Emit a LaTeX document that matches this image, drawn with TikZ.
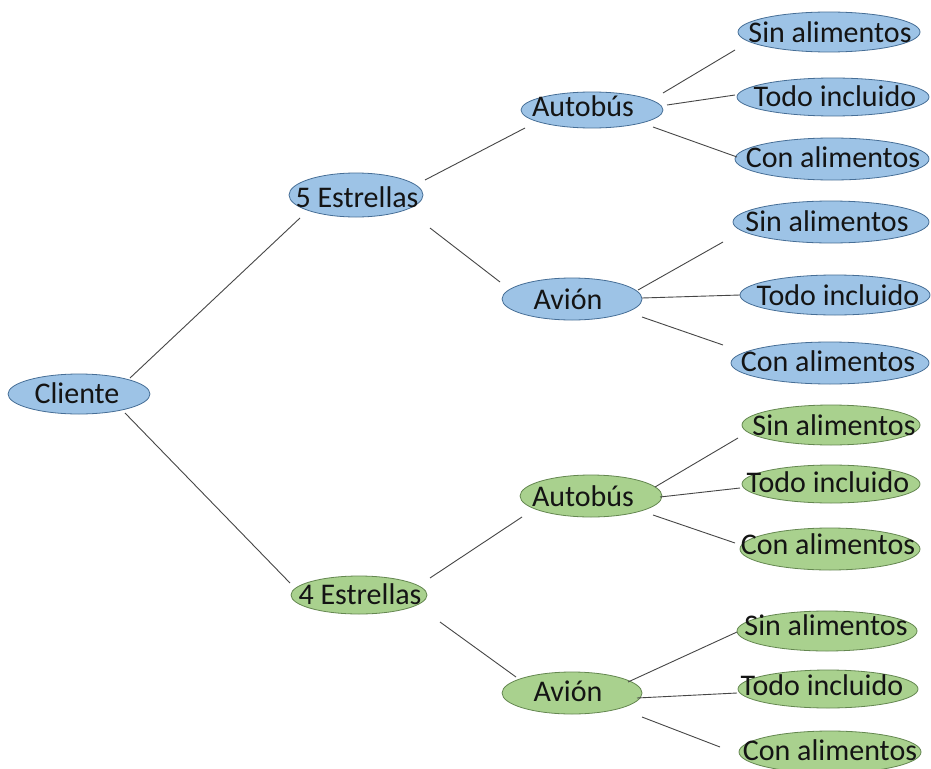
\documentclass[tikz,border=0pt]{standalone}
\usepackage{fontspec}
\setmainfont{Carlito}
\usetikzlibrary{calc,shapes.geometric}
\definecolor{bfill}{RGB}{157,195,230}
\definecolor{bline}{RGB}{70,110,150}
\definecolor{gfill}{RGB}{169,209,142}
\definecolor{gline}{RGB}{100,135,80}
\definecolor{conn}{RGB}{70,70,70}
\newcommand\bub[7]{%
  \node[#2, ellipse, inner sep=0pt, minimum width=#4pt, minimum height=#5pt] (#1) at (#3) {};
  \node[lbl] (#1-t) at (#6) {#7};}
\begin{document}
\begin{tikzpicture}[x=1pt,y=-1pt,
  lbl/.style={font=\fontsize{30}{30}\selectfont, inner sep=0pt, text height=19.3pt, text depth=0pt, text=black!92},
  bl/.style={fill=bfill, draw=bline, line width=0.8pt},
  gr/.style={fill=gfill, draw=gline, line width=0.8pt},
  conline/.style={draw=conn, line width=0.9pt}]
\useasboundingbox[fill=white] (0,0) rectangle (931,768);
\bub{cl}{bl}{79,394}{142}{40}{77,394}{Cliente}
\bub{s5}{bl}{356,195}{134}{44}{357,198}{5 Estrellas}
\bub{a1}{bl}{592,110}{142}{36}{583,107}{Autobús}
\bub{a1s}{bl}{829,32}{182}{40}{830,33}{Sin alimentos}
\bub{a1t}{bl}{833,97}{192}{38}{835,97}{Todo incluido}
\bub{a1c}{bl}{832,159}{194}{42}{833,158}{Con alimentos}
\bub{v1}{bl}{572,299}{140}{42}{568,300}{Avión}
\bub{v1s}{bl}{831,222}{196}{42}{827,222}{Sin alimentos}
\bub{v1t}{bl}{835,295}{190}{40}{838,296}{Todo incluido}
\bub{v1c}{bl}{830,363}{198}{42}{828,362}{Con alimentos}
\bub{s4}{gr}{359,595}{136}{38}{360,595}{4 Estrellas}
\bub{a2}{gr}{591,496}{142}{42}{583,497}{Autobús}
\bub{a2s}{gr}{831,425}{178}{40}{834,426}{Sin alimentos}
\bub{a2t}{gr}{831,484}{178}{38}{828,483}{Todo incluido}
\bub{a2c}{gr}{830,549}{180}{42}{828,545}{Con alimentos}
\bub{v2}{gr}{572,693}{140}{42}{568,692}{Avión}
\bub{v2s}{gr}{827,631}{180}{40}{826,626}{Sin alimentos}
\bub{v2t}{gr}{828,689}{180}{38}{822,686}{Todo incluido}
\bub{v2c}{gr}{830,752}{182}{42}{830,751}{Con alimentos}
\begin{scope}[conline]
\draw ($(cl)+(51,-16)$) -- ($(s5)+(-56,23)$);
\draw ($(cl)+(46,19)$) -- ($(s4)+(-69,-12)$);
\draw ($(s5)+(69,-15)$) -- ($(a1)+(-67,18)$);
\draw ($(s5)+(74,33)$) -- ($(v1)+(-72,-17)$);
\draw ($(s4)+(71,-17)$) -- ($(a2)+(-69,21)$);
\draw ($(s4)+(81,27)$) -- ($(v2)+(-56,-16)$);
\draw ($(a1)+(71,-17)$) -- ($(a1s)+(-94,18)$);
\draw ($(a1)+(75,-5)$) -- ($(a1t)+(-98,-2)$);
\draw ($(a1)+(61,17)$) -- ($(a1c)+(-95,-2)$);
\draw ($(v1)+(66,-9)$) -- ($(v1s)+(-108,20)$);
\draw ($(v1)+(70,-1)$) -- ($(v1t)+(-95,0)$);
\draw ($(v1)+(70,18)$) -- ($(v1c)+(-107,-18)$);
\draw ($(a2)+(64,-9)$) -- ($(a2s)+(-93,13)$);
\draw ($(a2)+(69,1)$) -- ($(a2t)+(-91,4)$);
\draw ($(a2)+(62,19)$) -- ($(a2c)+(-95,-6)$);
\draw ($(v2)+(56,-11)$) -- ($(v2s)+(-90,1)$);
\draw ($(v2)+(65,5)$) -- ($(v2t)+(-91,4)$);
\draw ($(v2)+(70,24)$) -- ($(v2c)+(-110,-5)$);
\end{scope}
\end{tikzpicture}
\end{document}
